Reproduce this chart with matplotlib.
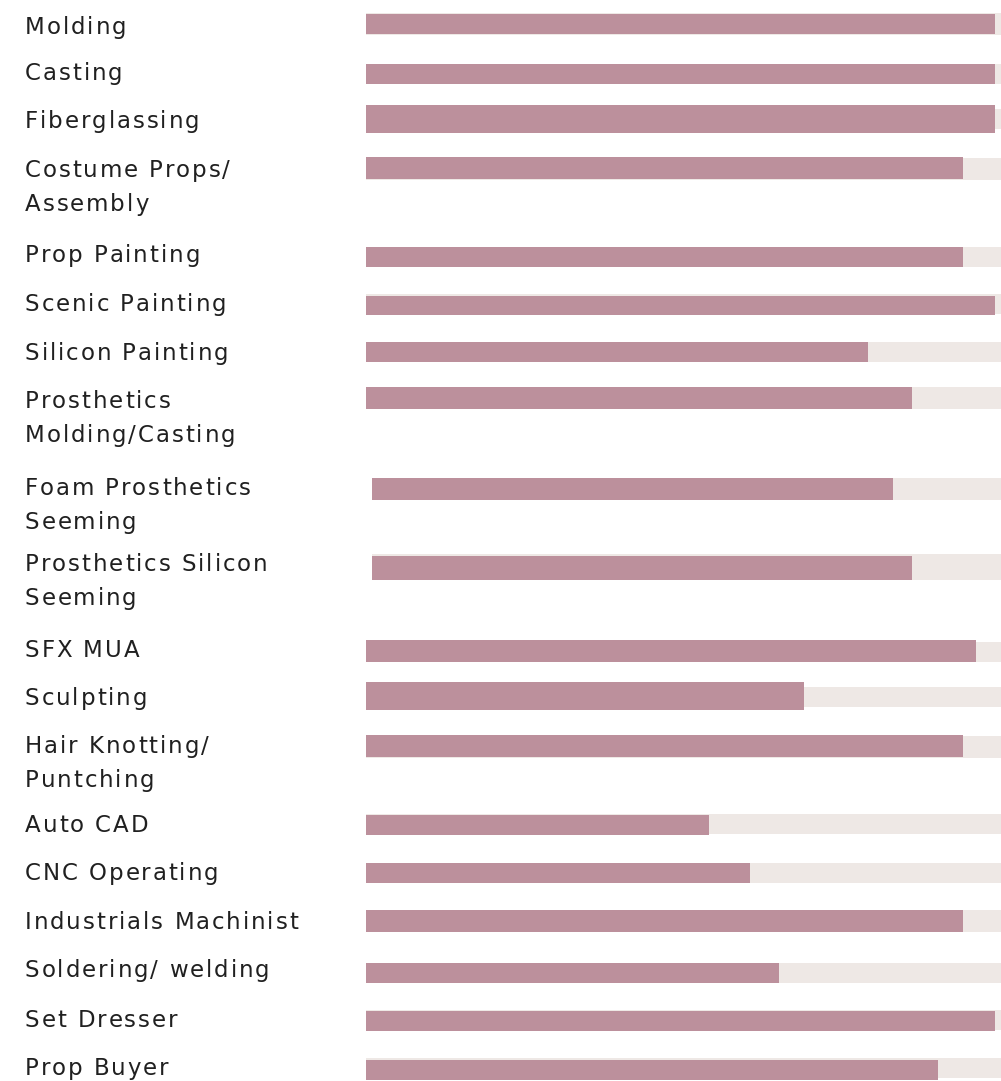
import matplotlib
matplotlib.use("Agg")
import matplotlib.pyplot as plt
from matplotlib.transforms import blended_transform_factory
from matplotlib.font_manager import FontProperties, findfont, get_font

# skill labels (two-line labels use \n)
skills = [
    "Molding", "Casting", "Fiberglassing", "Costume Props/\nAssembly",
    "Prop Painting", "Scenic Painting", "Silicon Painting",
    "Prosthetics\nMolding/Casting", "Foam Prosthetics\nSeeming",
    "Prosthetics Silicon\nSeeming", "SFX MUA", "Sculpting",
    "Hair Knotting/\nPuntching", "Auto CAD", "CNC Operating",
    "Industrials Machinist", "Soldering/ welding", "Set Dresser", "Prop Buyer",
]
# skill level in percent
levels = [99, 99, 99, 94, 94, 99, 79, 86, 83, 86, 96, 69, 94, 54, 60.5, 94, 65, 99, 90]
# where the bar starts (percent), two rows are shifted a bit
starts = [0, 0, 0, 0, 0, 0, 0, 0, 1, 1, 0, 0, 0, 0, 0, 0, 0, 0, 0]

# layout (pixel rows, top = 0)
bar_y = [24, 74, 119, 168, 257, 305, 352, 398, 489, 568, 651, 696, 746, 825, 873, 921, 973, 1021, 1070]
bar_h = [20, 20, 28, 22, 20, 19, 20, 22, 22, 24, 22, 28, 22, 20, 20, 22, 20, 20, 20]
track_y = [24, 74, 119, 169, 257, 304, 352, 398, 489, 567, 652, 697, 747, 824, 873, 921, 973, 1020, 1068]
track_h = [22, 20, 20, 22, 20, 20, 20, 22, 22, 26, 20, 20, 22, 20, 20, 22, 20, 20, 20]
label_base = [34, 80, 128, 177, 262, 311, 360, 408, 495, 571, 657, 705, 753, 832, 880, 929, 977, 1027, 1075]
line_gap = 34
tracking = 1.9  # extra px between letters

W, H = 1001, 1081
DPI = 100
fig = plt.figure(figsize=(W / DPI, H / DPI), dpi=DPI)
ax = fig.add_axes([366 / W, 0, 635 / W, 1])
ax.set_xlim(0, 100)
ax.set_ylim(H, 0)
ax.axis("off")

ax.barh(track_y, [100 - s for s in starts], left=starts, height=track_h,
        color="#EEE8E5", zorder=1)
ax.barh(bar_y, [l - s for l, s in zip(levels, starts)], left=starts, height=bar_h,
        color="#BC909C", zorder=2)

# letter-spaced labels, one glyph at a time
prop = FontProperties(family="DejaVu Sans", size=16.5)
ft = get_font(findfont(prop))
ft.set_size(prop.get_size_in_points(), DPI)


def advance(ch):
    g = ft.load_char(ord(ch))
    return g.linearHoriAdvance / 65536


trans = blended_transform_factory(fig.transFigure, ax.transData)
for name, yb in zip(skills, label_base):
    for i, line in enumerate(name.split("\n")):
        x = 25.0
        for ch in line:
            if ch != " ":
                ax.text(x / W, yb + i * line_gap, ch, transform=trans, ha="left",
                        va="baseline", fontproperties=prop, color="#202020",
                        clip_on=False)
            x += advance(ch) + tracking

fig.savefig("out.png", dpi=DPI, facecolor="white")
